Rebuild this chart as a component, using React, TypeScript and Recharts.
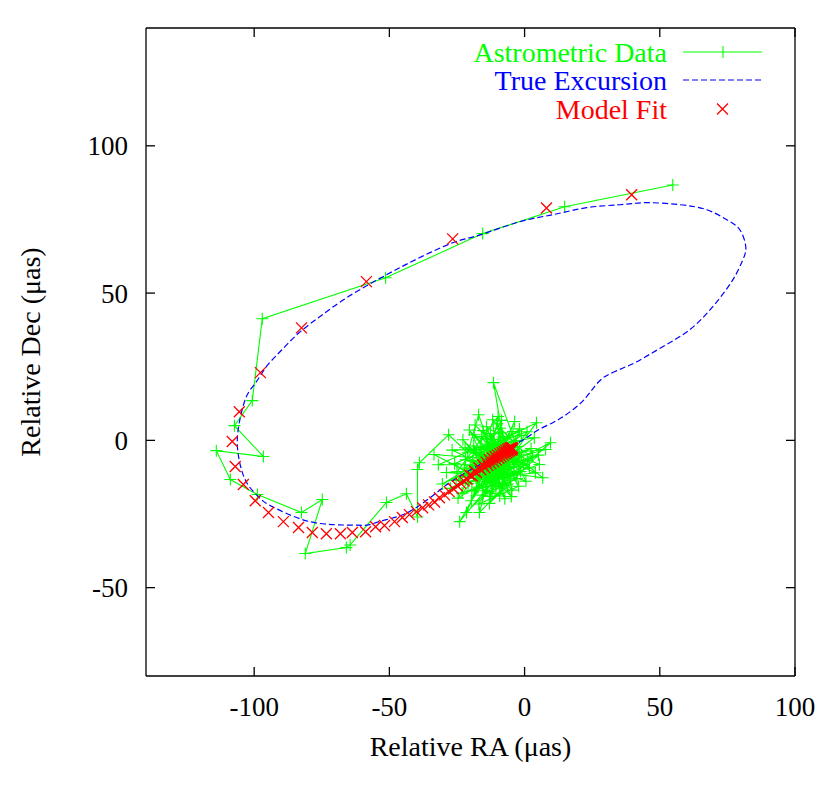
import React from "react";
import { ScatterChart, Scatter, XAxis, YAxis, Legend, Label } from "recharts";

// axis ranges and tick values (µas)
const raDomain = [-140, 100];
const decDomain = [-80, 140];
const raTicks = [-100, -50, 0, 50, 100];
const decTicks = [-50, 0, 50, 100];

// measured positions, in time order: [RA, Dec]
const astrometricData: [number, number][] = [
  [54.8, 86.7], [14.8, 79.3], [-15.5, 70.2], [-51.4, 55.2], [-97.0, 41.3],
  [-100.7, 13.5], [-107.3, 5.0], [-96.6, -5.5], [-114.0, -3.5], [-108.8, -13.3],
  [-98.8, -18.4], [-82.5, -24.5], [-74.8, -20.1], [-81.1, -38.4], [-65.9, -36.4],
  [-64.5, -35.5], [-51.1, -21.1], [-43.7, -18.1], [-39.6, -26.0], [-39.6, -9.9],
  [-38.9, -7.6], [-28.1, 1.9], [-21.0, -4.2], [-17.0, 8.7], [-12.3, -3.5],
  [-8.4, 2.6], [-14.6, -11.8], [-4.0, -8.9], [-19.5, -17.2], [-9.7, -14.6],
  [-11.8, 7.0], [-2.6, -2.1], [-16.2, -6.8], [-23.7, -12.4], [-6.1, -5.7],
  [1.8, -9.4], [-13.9, 0.8], [-7.3, -19.8], [-18.8, -1.9], [-10.5, -8.2],
  [-3.7, 6.4], [-15.3, -15.6], [-25.9, -7.9], [-8.9, -1.1], [6.7, -12.7],
  [-12.7, -10.3], [-20.4, 3.5], [-5.2, -13.5], [-16.7, -24.5], [-11.0, -5.1],
  [-1.2, 1.7], [-22.3, -9.4], [-7.9, -10.8], [-14.1, 4.6], [2.9, -5.6],
  [-18.0, -12.9], [-9.4, -3.3], [-30.4, -14.8], [-13.3, -7.4], [-4.7, -16.9],
  [-11.5, 19.6], [-2.0, -4.3], [-17.4, -9.1], [-6.8, 0.4], [-24.0, -27.6],
  [-10.2, -12.1], [4.4, 6.0], [-15.0, -3.0], [-8.2, -6.9], [-20.9, -14.7],
  [9.6, -0.8], [-12.0, -17.9], [-5.9, -2.6], [-26.8, -3.3], [-14.5, -8.8],
  [0.5, -13.9], [-9.0, 4.1], [-19.2, -7.0], [-6.5, -11.6], [-16.0, 1.3],
  [-3.1, -7.5], [-21.5, -24.5], [-10.8, -1.8], [5.5, -8.2], [-13.1, -14.0],
  [-7.6, -4.6], [-18.3, 5.2], [-1.5, -10.6], [-23.1, -17.9], [-11.7, -6.2],
  [-4.3, 3.0], [-16.8, -11.0], [-8.7, -16.2], [-14.2, -5.0], [7.8, -3.1],
  [-20.0, -10.2], [-5.5, -8.0], [-12.6, 2.3], [-9.9, -10.0], [-28.9, -10.9],
  [-2.8, -13.0], [-15.6, -18.6], [-7.0, -1.5], [-17.9, -4.4], [1.2, -6.9],
  [-11.3, -12.8], [-22.8, 0.2], [-6.2, -14.8], [-13.6, -9.6], [-3.4, -0.3],
  [-19.7, -20.5], [-10.1, 5.6], [-8.0, -8.5], [-15.1, -13.2], [4.0, -11.0],
  [-12.4, -4.2], [-25.3, -13.6], [-5.0, -5.2], [-17.2, -15.9], [-9.2, -18.9],
  [-1.9, 3.9], [-14.8, -6.1], [-7.5, -12.4], [-21.8, -6.6], [-11.1, -9.1],
  [3.6, 0.9], [-16.4, -2.4], [-6.6, -7.3], [-12.9, -19.0], [-9.6, -6.6],
  [-33.5, -4.8], [-10.6, -15.7], [-0.4, -8.1], [-18.6, 1.9], [-7.1, -9.7],
  [-24.6, -19.6], [-13.8, -2.1], [-4.9, -19.1], [-15.9, -8.1], [2.4, -2.8],
  [-20.7, -12.0], [-8.5, 6.8], [-11.9, -11.2], [-27.4, -16.3], [-5.8, -4.0],
  [-16.9, -21.6], [-2.2, -15.6], [-12.2, 0.4], [-9.3, -12.9], [-19.0, -3.7],
  [0.9, 2.9], [-14.4, -17.1], [-6.9, -8.8], [-22.0, -2.5], [-3.9, -11.2],
  [-10.4, -4.0], [-17.6, -13.9], [5.1, -5.0], [-13.0, -21.4], [-8.1, 1.2],
  [-31.9, -8.3], [-11.4, -8.2], [-4.5, -6.3], [-15.4, 3.3], [-7.7, -15.3],
  [-20.1, -8.6], [-1.1, -4.9], [-14.0, -12.3], [-9.8, 8.1], [-25.0, -10.7],
];

// true astrometric excursion of the star
const trueExcursion: [number, number][] = [
  [-5.0, -2.2], [0.7, 0.9], [5.0, 3.5], [10.4, 6.0], [15.0, 8.5],
  [19.2, 11.4], [22.0, 13.8], [24.3, 16.4], [26.8, 19.3], [29.6, 21.6],
  [33.0, 23.2], [37.0, 24.8], [41.5, 26.7], [51.1, 31.8], [61.1, 37.6],
  [69.6, 45.4], [77.0, 54.5], [80.7, 61.3], [81.8, 65.7], [79.6, 71.5],
  [74.8, 74.9], [67.4, 78.3], [57.4, 80.0], [45.2, 80.7], [35.2, 80.0],
  [22.9, 79.0], [10.4, 76.6], [-1.9, 74.2], [-16.7, 69.7], [-26.6, 67.1],
  [-40.0, 61.5], [-51.1, 56.2], [-65.0, 48.9], [-75.0, 42.5], [-83.3, 36.6],
  [-90.0, 30.5], [-95.5, 25.0], [-99.5, 19.5], [-102.9, 14.8], [-105.5, 6.0],
  [-106.2, -2.1], [-104.7, -9.9], [-101.8, -15.7], [-97.3, -20.1], [-93.3, -22.5],
  [-82.2, -26.9], [-71.1, -28.6], [-62.0, -28.8], [-57.4, -28.6], [-51.1, -26.9],
  [-42.6, -24.2], [-32.6, -17.8], [-27.8, -14.4], [-20.0, -10.0], [-12.0, -6.0],
  [-5.0, -2.2],
];

// fitted model at the epochs of the data
const modelFit: [number, number][] = [
  [39.6, 83.4], [8.1, 78.9], [-26.6, 68.4], [-58.5, 53.9], [-82.5, 38.2],
  [-97.7, 23.0], [-105.5, 9.7], [-108.1, -0.4], [-107.0, -8.9], [-104.0, -15.0],
  [-99.6, -20.5], [-94.7, -24.5], [-89.2, -27.6], [-83.6, -29.6], [-78.5, -31.3],
  [-73.3, -31.7], [-68.1, -31.7], [-63.7, -31.3], [-58.8, -31.0], [-55.1, -29.3],
  [-51.8, -28.9], [-48.1, -27.6], [-45.2, -26.2], [-42.6, -25.2], [-40.0, -24.2],
  [-37.7, -22.9], [-35.5, -21.9], [-33.3, -20.9], [-31.5, -19.5], [-29.6, -18.5],
  [-27.9, -17.4], [-26.3, -16.4], [-24.9, -15.4], [-23.6, -14.6], [-22.4, -13.8],
  [-21.3, -13.2], [-20.3, -11.8], [-19.4, -12.1], [-18.5, -10.5], [-17.7, -11.0],
  [-16.9, -9.3], [-16.2, -10.0], [-15.5, -8.3], [-14.8, -9.2], [-14.2, -7.4],
  [-13.6, -8.5], [-13.0, -6.6], [-12.5, -7.9], [-11.9, -6.0], [-11.4, -7.3],
  [-10.9, -5.5], [-10.4, -6.7], [-10.0, -5.0], [-9.5, -6.1], [-9.1, -4.6],
  [-8.7, -5.6], [-8.3, -4.2], [-7.9, -5.1], [-7.6, -3.8], [-7.2, -4.6],
  [-6.9, -3.4], [-6.6, -4.2], [-6.3, -3.0], [-6.0, -3.8], [-5.7, -2.8],
  [-5.5, -3.5], [-5.2, -2.6], [-5.0, -3.3], [-4.8, -2.5], [-4.6, -3.1],
  [-4.4, -2.6],
];

const toPoints = (pairs: [number, number][]) => pairs.map(([x, y]) => ({ x, y }));

const GREEN = "#00ff00";
const BLUE = "#0000ff";
const RED = "#ff0000";
const FONT = "'Liberation Serif', 'Times New Roman', serif";

const PlusMark = (props: any) => {
  const { cx, cy } = props;
  return <path d={`M${cx - 6},${cy}h12M${cx},${cy - 6}v12`} stroke={GREEN} strokeWidth={1.1} fill="none" />;
};

const CrossMark = (props: any) => {
  const { cx, cy } = props;
  return (
    <path
      d={`M${cx - 5.5},${cy - 5.5}l11,11M${cx - 5.5},${cy + 5.5}l11,-11`}
      stroke={RED}
      strokeWidth={1.3}
      fill="none"
    />
  );
};

const NoMark = () => <g />;
const NoTick = () => <g />;

const legendRows = [
  { name: "Astrometric Data", color: GREEN, kind: "line", y: 52 },
  { name: "True Excursion", color: BLUE, kind: "dash", y: 80 },
  { name: "Model Fit", color: RED, kind: "cross", y: 109 },
];

function renderLegend() {
  return (
    <svg width={830} height={130} style={{ display: "block" }}>
      {legendRows.map((r) => (
        <g key={r.name}>
          <text x={667} y={r.y + 10} textAnchor="end" fontFamily={FONT} fontSize={28} fill={r.color}>
            {r.name}
          </text>
          {r.kind === "line" && (
            <g stroke={r.color} strokeWidth={1.1}>
              <line x1={683} x2={762} y1={r.y} y2={r.y} />
              <line x1={723} x2={723} y1={r.y - 6} y2={r.y + 6} />
            </g>
          )}
          {r.kind === "dash" && (
            <line x1={683} x2={762} y1={r.y} y2={r.y} stroke={r.color} strokeWidth={1.2} strokeDasharray="6 3" />
          )}
          {r.kind === "cross" && (
            <path d={`M${717},${r.y - 5.5}l11,11M${717},${r.y + 5.5}l11,-11`} stroke={r.color} strokeWidth={1.3} />
          )}
        </g>
      ))}
    </svg>
  );
}

const tickStyle = { fill: "#000", fontSize: 27, fontFamily: FONT };
const frame = { stroke: "#000", strokeWidth: 1.3 };

export default function App() {
  return (
    <div style={{ position: "absolute", left: 0, top: 0, background: "#fff" }}>
      <ScatterChart width={830} height={790} margin={{ top: 27, right: 34, bottom: 0, left: 0 }}>
        <XAxis
          type="number"
          dataKey="x"
          domain={raDomain}
          ticks={raTicks}
          interval={0}
          allowDataOverflow
          height={114}
          tickSize={-9}
          tickMargin={30}
          axisLine={frame}
          tickLine={frame}
          tick={tickStyle}
        >
          <Label
            value="Relative RA (μas)"
            position="insideBottom"
            offset={34}
            fill="#000"
            fontSize={28}
            fontFamily={FONT}
          />
        </XAxis>
        <XAxis
          xAxisId="top"
          orientation="top"
          type="number"
          dataKey="x"
          domain={raDomain}
          ticks={raTicks}
          interval={0}
          allowDataOverflow
          height={1}
          tickSize={-9}
          axisLine={frame}
          tickLine={frame}
          tick={NoTick}
        />
        <YAxis
          type="number"
          dataKey="y"
          domain={decDomain}
          ticks={decTicks}
          interval={0}
          allowDataOverflow
          width={146}
          tickSize={-9}
          tickMargin={27}
          axisLine={frame}
          tickLine={frame}
          tick={tickStyle}
        >
          <Label
            value="Relative Dec (μas)"
            position="insideLeft"
            angle={-90}
            offset={30}
            textAnchor="middle"
            style={{ textAnchor: "middle" }}
            fill="#000"
            fontSize={28}
            fontFamily={FONT}
          />
        </YAxis>
        <YAxis
          yAxisId="right"
          orientation="right"
          type="number"
          dataKey="y"
          domain={decDomain}
          ticks={decTicks}
          interval={0}
          allowDataOverflow
          width={1}
          tickSize={-9}
          axisLine={frame}
          tickLine={frame}
          tick={NoTick}
        />
        <Legend
          layout="vertical"
          align="center"
          verticalAlign="middle"
          wrapperStyle={{ position: "absolute", left: 0, top: 0, width: 830, height: 130 }}
          content={renderLegend}
        />
        <Scatter
          name="Astrometric Data"
          data={toPoints(astrometricData)}
          line={{ stroke: GREEN, strokeWidth: 1.1 }}
          lineJointType="linear"
          shape={PlusMark}
          isAnimationActive={false}
        />
        <Scatter
          name="True Excursion"
          data={toPoints(trueExcursion)}
          line={{ stroke: BLUE, strokeWidth: 1.2, strokeDasharray: "6 3" }}
          lineJointType="natural"
          shape={NoMark}
          isAnimationActive={false}
        />
        <Scatter
          name="Model Fit"
          data={toPoints(modelFit)}
          shape={CrossMark}
          isAnimationActive={false}
        />
      </ScatterChart>
    </div>
  );
}
